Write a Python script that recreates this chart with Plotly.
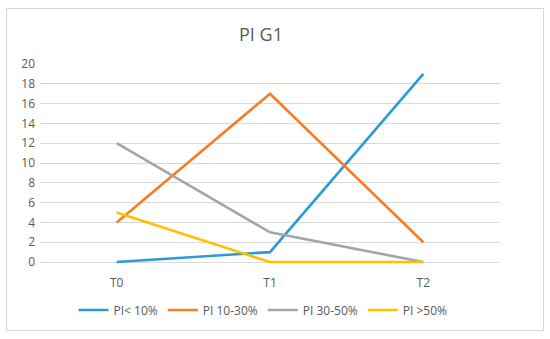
import plotly.graph_objects as go

categories = ["T0", "T1", "T2"]
series_names = ["PI< 10%", "PI 10-30%", "PI 30-50%", "PI >50%"]
pi_lt10 = [0, 1, 19]
pi_10_30 = [4, 17, 2]
pi_30_50 = [12, 3, 0]
pi_gt50 = [5, 0, 0]
y_ticks = [0, 2, 4, 6, 8, 10, 12, 14, 16, 18, 20]

colors = ["#2A9BD8", "#F97B22", "#A5A5A5", "#FFC000"]
values = [pi_lt10, pi_10_30, pi_30_50, pi_gt50]

fig = go.Figure()
for name, vals, c in zip(series_names, values, colors):
    fig.add_trace(go.Scatter(x=categories, y=vals, name=name, mode="lines",
                             line=dict(color=c, width=2.6)))

# y range extended slightly below 0 so the lines at 0 are not clipped
W, H = 550, 339
Y0PX, Y20PX = 262, 64
unit = (Y0PX - Y20PX) / 20.0
ext = 0.4
L, R, T = 40, 50, Y20PX
B = H - (Y0PX + ext * unit)
pw, ph = W - L - R, H - T - B

def px_x(x):
    return (x - L) / pw

def px_y(y):
    return (H - B - y) / ph

fig.update_layout(
    width=W, height=H,
    margin=dict(l=L, r=R, t=T, b=B, autoexpand=False),
    paper_bgcolor="white", plot_bgcolor="white",
    font=dict(family="Open Sans, Liberation Sans, sans-serif", color="#595959", size=12),
    title=dict(text="PI G1", x=px_x(261), xanchor="center", xref="paper",
               y=1 - 35 / H, yanchor="middle",
               font=dict(size=18, color="#595959")),
    xaxis=dict(type="category", range=[-0.5, 2.5], showgrid=False, showline=False,
               zeroline=False, ticks="", automargin=False, ticklabelstandoff=8,
               tickfont=dict(size=12, color="#595959")),
    yaxis=dict(range=[-ext, 20], tickvals=y_ticks, showgrid=True, gridcolor="#D9D9D9",
               gridwidth=1, zeroline=False, showline=False, ticks="", automargin=False,
               ticklabelstandoff=4,
               tickfont=dict(size=12, color="#595959")),
    legend=dict(orientation="h", x=px_x(263), xanchor="center", y=px_y(310), yanchor="middle",
                font=dict(size=12, color="#595959"), itemwidth=30, bgcolor="rgba(0,0,0,0)"),
    showlegend=True,
    shapes=[dict(type="rect", xref="paper", yref="paper",
                 x0=px_x(6.5), x1=px_x(543.5), y0=px_y(330.5), y1=px_y(8.5),
                 line=dict(color="#D4D4D4", width=1), layer="above")],
)

fig.write_html("out.html", config={"displayModeBar": False},
               post_script="document.body.style.margin='0';document.body.style.overflow='hidden';")
